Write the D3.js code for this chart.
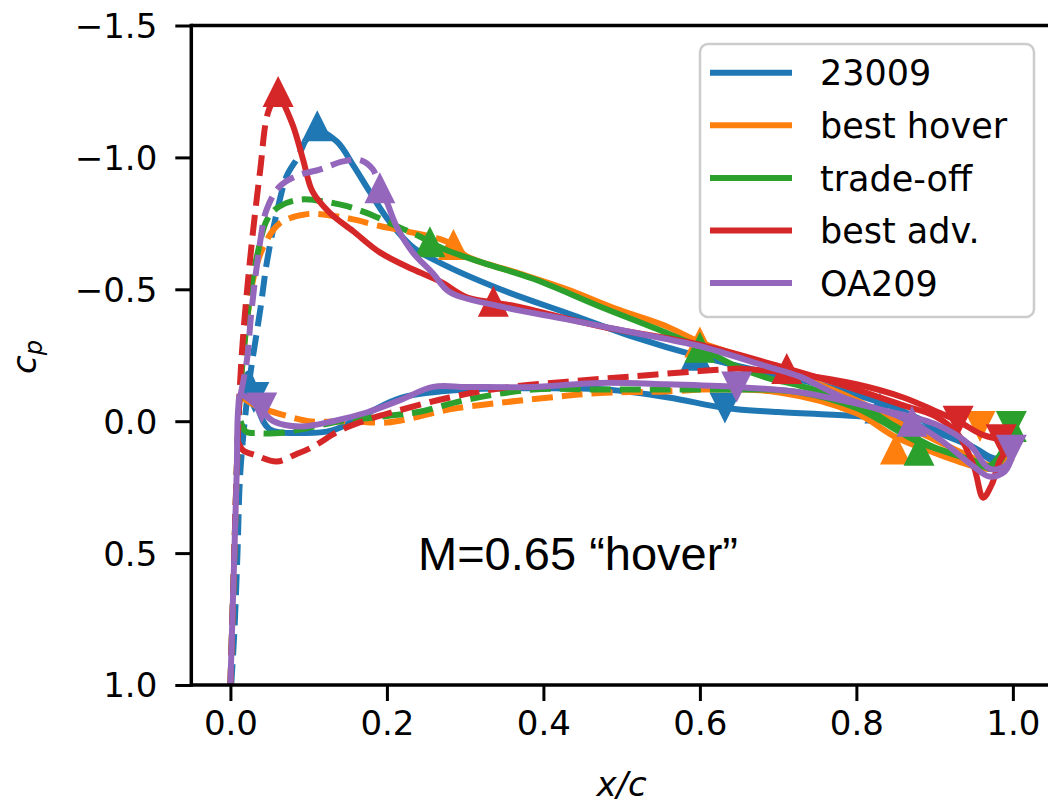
<!DOCTYPE html>
<html>
<head>
<meta charset="utf-8">
<script src="https://cdn.jsdelivr.net/npm/d3@7"></script>
<style>
  html, body { margin: 0; padding: 0; background: #fff; }
  svg { display: block; }
</style>
</head>
<body>
<svg id="chart" width="1048" height="806"></svg>
<script>
// Pressure coefficient distributions, M = 0.65 hover condition.
const airfoils = ["23009", "best hover", "trade-off", "best adv.", "OA209"];
const colors = ["#1f77b4", "#ff7f0e", "#2ca02c", "#d62728", "#9467bd"];
const xTicks = [0.0, 0.2, 0.4, 0.6, 0.8, 1.0];
const yTicks = [-1.5, -1.0, -0.5, 0.0, 0.5, 1.0];

// 23009
const a23009UpperDash = [[0.001,1.0],[0.005,0.8],[0.009,0.5],[0.0125,0.2],[0.02,-0.05],[0.025,-0.17],[0.038,-0.42],[0.047,-0.61],[0.06,-0.8],[0.072,-0.93],[0.086,-1.0],[0.095,-1.06]];
const a23009UpperSolid = [[0.095,-1.06],[0.111,-1.1],[0.136,-1.06],[0.157,-0.97],[0.178,-0.87],[0.2,-0.77],[0.233,-0.66],[0.268,-0.6],[0.345,-0.5],[0.43,-0.41],[0.515,-0.32],[0.6,-0.245],[0.685,-0.185],[0.727,-0.158],[0.8,-0.1],[0.85,-0.05],[0.9,0.02],[0.95,0.1],[0.975,0.15],[1.0,0.14]];
const a23009LowerSolid = [[0.016,-0.1],[0.022,-0.18],[0.028,-0.15],[0.035,-0.05],[0.05,0.03],[0.09,0.045],[0.13,0.035],[0.175,-0.03],[0.22,-0.09],[0.3,-0.12],[0.4,-0.125],[0.48,-0.12],[0.56,-0.09],[0.632,-0.05],[0.7,-0.035],[0.8,-0.02],[0.85,-0.01],[0.9,0.04],[0.95,0.1],[0.975,0.14],[1.0,0.14]];
const a23009Up = [[0.111,-1.12],[0.595,-0.25],[0.83,-0.05]];
const a23009Down = [[0.03,-0.09],[0.632,-0.05]];

// best hover
const hoverUpperDash = [[0.0,1.0],[0.004,0.6],[0.008,0.2],[0.012,-0.1],[0.02,-0.35],[0.03,-0.55],[0.042,-0.66],[0.063,-0.75],[0.098,-0.785],[0.127,-0.78],[0.157,-0.765],[0.191,-0.74],[0.233,-0.715],[0.268,-0.69],[0.285,-0.67]];
const hoverUpperSolid = [[0.285,-0.67],[0.302,-0.625],[0.366,-0.563],[0.43,-0.5],[0.494,-0.425],[0.557,-0.36],[0.6,-0.3],[0.7,-0.2],[0.8,-0.08],[0.85,0.0],[0.9,0.07],[0.95,0.14],[0.975,0.17],[1.0,0.12]];
const hoverLowerDash = [[0.012,-0.1],[0.02,-0.08],[0.035,-0.055],[0.072,-0.02],[0.1,0.0],[0.15,0.0],[0.2,0.005],[0.23,-0.01],[0.28,-0.045],[0.345,-0.07],[0.408,-0.09],[0.472,-0.107],[0.557,-0.113],[0.6,-0.12]];
const hoverLowerSolid = [[0.6,-0.12],[0.7,-0.11],[0.8,-0.03],[0.85,0.06],[0.9,0.12],[0.95,0.17],[0.975,0.18],[1.0,0.14]];
const hoverUp = [[0.285,-0.67],[0.6,-0.3],[0.85,0.105]];
const hoverDown = [[0.958,0.02]];

// trade-off
const tradeUpperDash = [[0.0,1.0],[0.004,0.6],[0.008,0.2],[0.012,-0.1],[0.02,-0.35],[0.027,-0.52],[0.035,-0.64],[0.047,-0.765],[0.063,-0.815],[0.089,-0.84],[0.115,-0.835],[0.149,-0.815],[0.182,-0.78],[0.212,-0.74],[0.242,-0.7],[0.255,-0.68]];
const tradeUpperSolid = [[0.255,-0.68],[0.275,-0.65],[0.323,-0.6],[0.387,-0.54],[0.472,-0.435],[0.557,-0.335],[0.6,-0.28],[0.645,-0.21],[0.685,-0.165],[0.727,-0.135],[0.8,-0.07],[0.85,0.02],[0.9,0.1],[0.95,0.15],[0.975,0.18],[1.0,0.05]];
const tradeLowerDash = [[0.013,0.0],[0.02,0.04],[0.034,0.045],[0.063,0.045],[0.1,0.025],[0.14,0.0],[0.17,-0.01],[0.2,-0.02],[0.24,-0.035],[0.3,-0.08],[0.387,-0.12],[0.472,-0.12],[0.557,-0.12],[0.64,-0.12]];
const tradeLowerSolid = [[0.64,-0.12],[0.727,-0.11],[0.8,-0.05],[0.88,0.08],[0.93,0.13],[0.97,0.17],[1.0,0.03]];
const tradeUp = [[0.255,-0.68],[0.6,-0.28],[0.88,0.11],[0.998,0.02]];
const tradeDown = [[0.998,0.02]];

// best adv.
const advUpperDash = [[0.0,1.0],[0.004,0.6],[0.008,0.19],[0.014,-0.23],[0.025,-0.61],[0.038,-0.95],[0.048,-1.17],[0.061,-1.25]];
const advUpperSolid = [[0.061,-1.25],[0.08,-1.12],[0.093,-0.99],[0.105,-0.87],[0.127,-0.79],[0.157,-0.72],[0.191,-0.64],[0.233,-0.576],[0.268,-0.53],[0.302,-0.47],[0.336,-0.45],[0.366,-0.435],[0.472,-0.36],[0.6,-0.29],[0.711,-0.2],[0.8,-0.12],[0.86,-0.06],[0.9,-0.02],[0.93,0.05],[0.95,0.17],[0.962,0.29],[0.973,0.24],[0.985,0.14],[1.0,0.1]];
const advLowerDash = [[0.01,0.08],[0.016,0.11],[0.033,0.13],[0.059,0.153],[0.084,0.125],[0.106,0.096],[0.14,0.035],[0.174,-0.005],[0.208,-0.035],[0.28,-0.09],[0.345,-0.125],[0.43,-0.15],[0.515,-0.17],[0.6,-0.19],[0.65,-0.2]];
const advLowerSolid = [[0.65,-0.2],[0.72,-0.18],[0.8,-0.14],[0.86,-0.09],[0.9,-0.04],[0.93,0.0],[0.96,0.05],[0.985,0.07],[1.0,0.08]];
const advUp = [[0.061,-1.25],[0.336,-0.455],[0.711,-0.2]];
const advDown = [[0.93,0.0],[0.985,0.07]];

// OA209
const oa209UpperDash = [[0.013,-0.1],[0.021,-0.23],[0.027,-0.42],[0.038,-0.68],[0.046,-0.8],[0.063,-0.89],[0.085,-0.93],[0.115,-0.955],[0.144,-0.985],[0.166,-0.99],[0.182,-0.955],[0.191,-0.885]];
const oa209UpperSolid = [[0.191,-0.885],[0.2,-0.83],[0.212,-0.74],[0.233,-0.64],[0.259,-0.56],[0.28,-0.49],[0.345,-0.435],[0.43,-0.386],[0.515,-0.336],[0.6,-0.284],[0.685,-0.208],[0.727,-0.17],[0.78,-0.094],[0.865,-0.006],[0.907,0.07],[0.949,0.17],[0.97,0.21],[0.99,0.19],[1.0,0.12]];
const oa209LowerSolid = [[0.0,1.0],[0.004,0.6],[0.008,0.2],[0.01,-0.05],[0.013,-0.1],[0.025,-0.08],[0.04,-0.04],[0.055,0.0],[0.089,0.02],[0.131,0.0],[0.174,-0.033],[0.217,-0.08],[0.259,-0.13],[0.302,-0.13],[0.387,-0.13],[0.472,-0.145],[0.557,-0.14],[0.647,-0.13],[0.727,-0.11],[0.78,-0.08],[0.83,-0.045],[0.9,0.01],[0.945,0.09],[0.97,0.18],[0.99,0.17],[1.0,0.12]];
const oa209Up = [[0.191,-0.885],[0.871,0.0]];
const oa209Down = [[0.04,-0.05],[0.647,-0.13],[0.998,0.11]];

const annotation = "M=0.65 \u201chover\u201d";

// Series assembled for drawing, in plotting order.
const series = [
  { dashed: [a23009UpperDash], solid: [a23009UpperSolid, a23009LowerSolid], up: a23009Up, down: a23009Down },
  { dashed: [hoverUpperDash, hoverLowerDash], solid: [hoverUpperSolid, hoverLowerSolid], up: hoverUp, down: hoverDown },
  { dashed: [tradeUpperDash, tradeLowerDash], solid: [tradeUpperSolid, tradeLowerSolid], up: tradeUp, down: tradeDown },
  { dashed: [advUpperDash, advLowerDash], solid: [advUpperSolid, advLowerSolid], up: advUp, down: advDown },
  { dashed: [oa209UpperDash], solid: [oa209UpperSolid, oa209LowerSolid], up: oa209Up, down: oa209Down }
];

const svg = d3.select("#chart");
const plot = { left: 191.3, right: 1052, top: 25.5, bottom: 685 };

const x = d3.scaleLinear().domain([-0.05, 1.05]).range([plot.left, plot.right]);
const y = d3.scaleLinear().domain([-1.5, 1.0]).range([plot.top, plot.bottom]);

svg.append("defs").append("clipPath").attr("id", "plotClip")
  .append("rect")
  .attr("x", plot.left).attr("y", plot.top)
  .attr("width", plot.right - plot.left).attr("height", plot.bottom - plot.top);

const line = d3.line()
  .x(d => x(d[0])).y(d => y(d[1]))
  .curve(d3.curveCatmullRom.alpha(0.5));

const LW = 6;
const MS = 15.5; // half marker size
const triUp = `M0,${-MS}L${MS},${MS}L${-MS},${MS}Z`;
const triDown = `M0,${MS}L${MS},${-MS}L${-MS},${-MS}Z`;

const g = svg.append("g").attr("clip-path", "url(#plotClip)");

series.forEach((s, i) => {
  const sg = g.append("g");
  s.solid.forEach(seg => {
    sg.append("path").attr("d", line(seg))
      .attr("fill", "none").attr("stroke", colors[i])
      .attr("stroke-width", LW).attr("stroke-linecap", "butt").attr("stroke-linejoin", "round");
  });
  s.dashed.forEach(seg => {
    sg.append("path").attr("d", line(seg))
      .attr("fill", "none").attr("stroke", colors[i])
      .attr("stroke-width", LW).attr("stroke-dasharray", "21,9")
      .attr("stroke-linecap", "butt").attr("stroke-linejoin", "round");
  });
  sg.selectAll("path.up").data(s.up).join("path").attr("class", "up")
    .attr("d", triUp).attr("fill", colors[i])
    .attr("transform", d => `translate(${x(d[0])},${y(d[1])})`);
  sg.selectAll("path.down").data(s.down).join("path").attr("class", "down")
    .attr("d", triDown).attr("fill", colors[i])
    .attr("transform", d => `translate(${x(d[0])},${y(d[1])})`);
});

// Axes
const axisColor = "#000";
const tickFont = "DejaVu Sans, sans-serif";
const fmt = v => (v < 0 ? "\u2212" : "") + Math.abs(v).toFixed(1);

const xAxis = d3.axisBottom(x).tickValues(xTicks).tickSize(16).tickPadding(10).tickFormat(d3.format(".1f"));
const yAxis = d3.axisLeft(y).tickValues(yTicks).tickSize(16).tickPadding(18).tickFormat(fmt);

const xg = svg.append("g").attr("transform", `translate(0,${plot.bottom})`).call(xAxis);
const yg = svg.append("g").attr("transform", `translate(${plot.left},0)`).call(yAxis);
[xg, yg].forEach(a => {
  a.select(".domain").remove();
  a.selectAll(".tick line").attr("stroke", axisColor).attr("stroke-width", 3);
  a.selectAll(".tick text").attr("fill", "#000")
    .style("font-family", tickFont).style("font-size", "34px");
});
xg.selectAll(".tick text").attr("dy", "0.71em");
yg.selectAll(".tick text").attr("dy", "0.35em");

// Spines
svg.append("line").attr("x1", plot.left).attr("x2", plot.right).attr("y1", plot.bottom).attr("y2", plot.bottom)
  .attr("stroke", axisColor).attr("stroke-width", 3.5);
svg.append("line").attr("x1", plot.left).attr("x2", plot.right).attr("y1", plot.top).attr("y2", plot.top)
  .attr("stroke", axisColor).attr("stroke-width", 3.5);
svg.append("line").attr("x1", plot.left).attr("x2", plot.left).attr("y1", plot.top - 1.75).attr("y2", plot.bottom + 1.75)
  .attr("stroke", axisColor).attr("stroke-width", 3.5);

// Axis labels
svg.append("text").attr("x", (plot.left + plot.right) / 2).attr("y", 796)
  .attr("text-anchor", "middle")
  .style("font-family", tickFont).style("font-size", "34px").style("font-style", "italic")
  .text("x/c");

const yl = svg.append("text")
  .attr("transform", "translate(36,357) rotate(-90)")
  .attr("text-anchor", "middle")
  .style("font-family", tickFont).style("font-size", "34px");
yl.append("tspan").style("font-style", "italic").text("c");
yl.append("tspan").style("font-style", "italic").style("font-size", "24px").attr("dy", "6").text("p");

// Annotation
svg.append("text").attr("x", 418).attr("y", 570)
  .style("font-family", "Liberation Sans, Arial, sans-serif").style("font-size", "47px")
  .attr("fill", "#000")
  .text(annotation);

// Legend
const lg = svg.append("g");
lg.append("rect").attr("x", 700).attr("y", 44).attr("width", 334).attr("height", 273).attr("rx", 8)
  .attr("fill", "#fff").attr("fill-opacity", 0.8).attr("stroke", "#cccccc").attr("stroke-width", 2.5);
airfoils.forEach((name, i) => {
  const cy = 72.7 + i * 52.6;
  lg.append("line").attr("x1", 710).attr("x2", 792).attr("y1", cy).attr("y2", cy)
    .attr("stroke", colors[i]).attr("stroke-width", LW);
  lg.append("text").attr("x", 820).attr("y", cy).attr("dy", "0.36em")
    .style("font-family", tickFont).style("font-size", "35px").attr("fill", "#000")
    .text(name);
});
</script>
</body>
</html>
